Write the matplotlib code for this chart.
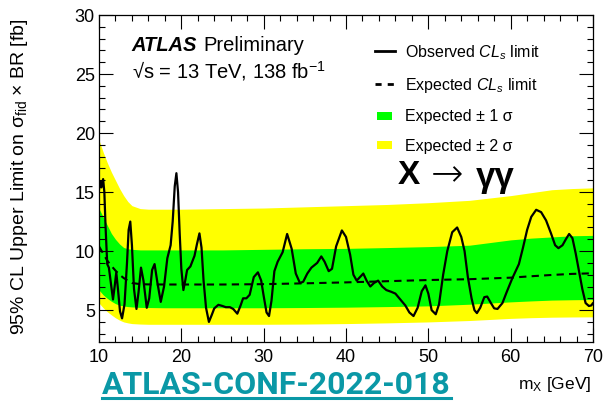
import matplotlib
matplotlib.use("Agg")
import matplotlib.pyplot as plt
from matplotlib.ticker import MultipleLocator, FixedLocator
from matplotlib.lines import Line2D
from matplotlib.patches import Patch, Rectangle
from matplotlib.legend_handler import HandlerPatch

plt.rcParams["font.family"] = ["Liberation Sans", "DejaVu Sans"]
plt.rcParams["mathtext.fontset"] = "custom"
plt.rcParams["mathtext.rm"] = "Liberation Sans"
plt.rcParams["mathtext.it"] = "Liberation Sans:italic"
plt.rcParams["mathtext.bf"] = "Liberation Sans:bold"

# ---------------- data ----------------
band_mass = [10, 10.5, 11, 11.5, 12, 12.5, 13, 13.5, 14, 15, 16, 18, 20, 25, 30,
             35, 40, 45, 50, 55, 60, 62.5, 65, 67.5, 70]
expected = [10.4, 9.8, 9.2, 8.75, 8.35, 8.0, 7.72, 7.5, 7.3, 7.2, 7.18, 7.17, 7.17, 7.17, 7.2,
            7.27, 7.35, 7.45, 7.55, 7.62, 7.75, 7.87, 7.98, 8.07, 8.12]
exp_up1 = [13.6, 12.9, 12.2, 11.5, 11.0, 10.6, 10.3, 10.2, 10.15, 10.1, 10.1, 10.1, 10.1, 10.1, 10.15,
           10.2, 10.23, 10.3, 10.38, 10.5, 10.95, 11.1, 11.2, 11.3, 11.33]
exp_lo1 = [6.7, 6.3, 6.0, 5.75, 5.55, 5.42, 5.35, 5.3, 5.27, 5.23, 5.22, 5.2, 5.2, 5.2, 5.2,
           5.22, 5.25, 5.3, 5.36, 5.5, 5.7, 5.78, 5.85, 5.88, 5.9]
exp_up2 = [19.4, 18.4, 17.5, 16.7, 16.0, 15.3, 14.7, 14.2, 13.85, 13.6, 13.55, 13.55, 13.55, 13.6, 13.65,
           13.75, 13.85, 13.95, 14.1, 14.3, 14.7, 14.95, 15.2, 15.3, 15.36]
exp_lo2 = [5.6, 5.2, 4.87, 4.6, 4.35, 4.15, 4.0, 3.92, 3.86, 3.82, 3.8, 3.8, 3.8, 3.8, 3.8,
           3.82, 3.86, 3.92, 4.0, 4.12, 4.3, 4.36, 4.4, 4.42, 4.43]

obs_mass = [10.0, 10.15, 10.3, 10.5, 10.65, 10.8, 11.0, 11.2, 11.4, 11.7, 11.9, 12.1, 12.3, 12.55,
            12.8, 13.1, 13.4, 13.6, 13.8, 14.0, 14.25, 14.55, 14.8, 15.1, 15.4, 15.8, 16.1, 16.45,
            16.75, 17.1, 17.5, 17.9, 18.3, 18.7, 18.95, 19.2, 19.4, 19.6, 19.8, 20.0, 20.25, 20.5,
            20.7, 21.1, 21.6, 21.9, 22.2, 22.45, 22.7, 23.0, 23.35, 23.7, 24.0, 24.5, 25.0, 25.4,
            25.9, 26.3, 26.8, 27.2, 27.5, 27.9, 28.3, 28.8, 29.3, 29.7, 30.0, 30.35, 30.65, 30.95,
            31.3, 31.7, 32.3, 32.85, 33.4, 33.9, 34.4, 34.8, 35.3, 35.8, 36.5, 37.0, 37.4, 37.9,
            38.3, 38.8, 39.5, 40.0, 40.5, 40.9, 41.3, 41.7, 42.1, 42.5, 42.95, 43.4, 43.9, 44.4,
            44.9, 45.5, 46.0, 46.6, 47.2, 47.7, 48.2, 48.7, 49.2, 49.65, 50.0, 50.4, 50.9, 51.3,
            51.8, 52.3, 52.9, 53.5, 54.0, 54.4, 54.8, 55.25, 55.6, 55.9, 56.3, 56.8, 57.15, 57.6,
            58.0, 58.4, 59.0, 59.5, 60.2, 61.0, 61.5, 62.0, 62.5, 63.1, 63.7, 64.3, 64.9, 65.4,
            65.8, 66.3, 66.7, 67.1, 67.5, 67.9, 68.3, 68.7, 69.1, 69.5, 69.8, 70.0]
obs_limit = [15.2, 15.9, 15.4, 16.1, 15.0, 12.0, 8.9, 8.6, 7.5, 5.9, 7.0, 8.2, 6.8, 4.9,
             4.3, 5.5, 9.0, 11.8, 12.5, 10.5, 6.8, 5.1, 6.5, 8.6, 7.5, 5.2, 6.0, 8.4,
             8.9, 7.3, 5.7, 7.0, 9.4, 10.5, 12.5, 15.5, 16.6, 15.0, 11.5, 8.5, 6.7, 7.6,
             8.4, 8.7, 9.6, 10.6, 11.5, 10.3, 7.5, 5.2, 4.0, 4.6, 5.15, 5.45, 5.35, 5.25,
             5.25, 5.1, 4.7, 5.4, 6.0, 6.0, 6.3, 7.8, 8.2, 7.5, 6.2, 4.8, 4.5, 5.8,
             8.3, 9.1, 9.9, 11.45, 10.2, 8.1, 7.3, 7.4, 8.1, 8.6, 9.0, 9.55, 9.1, 8.3,
             8.5, 10.4, 11.75, 11.2, 9.7, 8.0, 7.5, 7.8, 8.1, 7.5, 7.0, 7.3, 7.5, 7.0,
             6.7, 6.55, 6.4, 5.9, 5.4, 4.8, 4.5, 5.2, 6.6, 7.1, 6.4, 5.0, 4.65, 5.5,
             8.0, 10.0, 11.6, 12.0, 11.2, 10.0, 7.8, 6.0, 5.0, 4.75, 5.2, 6.1, 6.15, 5.6,
             5.15, 5.1, 5.6, 6.5, 7.7, 8.9, 10.3, 11.8, 12.9, 13.5, 13.3, 12.6, 11.5, 10.5,
             10.25, 10.5, 11.0, 11.45, 11.1, 9.8, 8.3, 6.8, 5.6, 5.35, 5.4, 5.6]

xticks = [10, 20, 30, 40, 50, 60, 70]
yticks = [5, 10, 15, 20, 25, 30]
legend_labels = ["Observed $CL_s$ limit", "Expected $CL_s$ limit",
                 "Expected \u00b1 1 \u03c3", "Expected \u00b1 2 \u03c3"]

# ---------------- figure ----------------
W, H = 605, 401
fig = plt.figure(figsize=(W / 100, H / 100), dpi=100)


def fx(px):
    return px / W


def fy(py):
    return 1 - py / H


ax = fig.add_axes([fx(99), fy(342), 494 / W, 327 / H])

ax.fill_between(band_mass, exp_lo2, exp_up2, color="#ffff00", lw=0, zorder=1)
ax.fill_between(band_mass, exp_lo1, exp_up1, color="#00ff00", lw=0, zorder=1.1)
ax.plot(band_mass, expected, color="black", lw=1.5, ls=(0, (3.5, 2.5)), zorder=2)
ax.plot(obs_mass, obs_limit, color="black", lw=1.6, zorder=3,
        solid_joinstyle="round", solid_capstyle="round")

ax.set_xlim(10, 70)
ax.set_ylim(2.3, 30)
ax.xaxis.set_major_locator(FixedLocator(xticks))
ax.yaxis.set_major_locator(FixedLocator(yticks))
ax.xaxis.set_minor_locator(MultipleLocator(2))
ax.yaxis.set_minor_locator(MultipleLocator(1))
ax.tick_params(which="both", direction="in", top=True, right=True, width=0.8,
               labelsize=13)
ax.tick_params(which="major", length=10)
ax.tick_params(which="minor", length=4.5)
ax.tick_params(axis="x", pad=5)
ax.tick_params(axis="y", pad=3)
for s in ax.spines.values():
    s.set_linewidth(0.9)

ax.set_ylabel("95% CL Upper Limit on \u03c3$_{\\rm fid}$ \u00d7 BR [fb]",
              fontsize=14, va="center")
ax.yaxis.set_label_coords((20 - 99) / 494, (342 - 177) / 327)
ax.set_xlabel("m$_{\\rm X}$ [GeV]", fontsize=12.5, ha="right", va="center")
ax.xaxis.set_label_coords((591 - 99) / 494, (342 - 385) / 327)


def rect_patch(legend, orig_handle, xdescent, ydescent, width, height, fontsize):
    h = 5.8
    return Rectangle((-xdescent + 0.08 * width, -ydescent + (height - h) / 2),
                     0.78 * width, h)


handles = [Line2D([], [], color="black", lw=2),
           Line2D([], [], color="black", lw=2, ls=(0, (2.2, 2.2))),
           Patch(facecolor="#00ff00", lw=0),
           Patch(facecolor="#ffff00", lw=0)]
leg = ax.legend(handles, legend_labels, loc="upper left",
                bbox_to_anchor=(fx(375), fy(43)), bbox_transform=fig.transFigure,
                frameon=False, fontsize=11.5, handlelength=1.25, handletextpad=0.65,
                labelspacing=0.9, borderpad=0, borderaxespad=0,
                handler_map={Patch: HandlerPatch(patch_func=rect_patch)})

fig.text(fx(131.5), fy(45.7), "ATLAS", fontsize=14.5, fontweight="bold",
         fontstyle="italic", va="center", ha="left")
fig.text(fx(203), fy(45.7), "Preliminary", fontsize=14.5, va="center", ha="left")
fig.text(fx(131.5), fy(71.5), "\u221as = 13 TeV, 138 fb$^{-1}$", fontsize=14.5,
         va="center", ha="left")

fig.text(fx(398), fy(176), "X", fontsize=24, fontweight="bold", va="center", ha="left")
fig.text(fx(431), fy(175), "\u2192", fontsize=28, family=["DejaVu Sans"],
         fontweight="light", va="center", ha="left")
fig.text(fx(476), fy(178), "\u03b3\u03b3", fontsize=25, fontweight="bold",
         va="center", ha="left")

conf = fig.text(fx(102.3), fy(394.3), "ATLAS-CONF-2022-018", fontsize=23,
                family=["Roboto", "DejaVu Sans"], fontweight="bold",
                color="#0a98a6", va="baseline", ha="left")
fig.canvas.draw()
bb = conf.get_window_extent()
fig.add_artist(Line2D([bb.x0 / W, bb.x1 / W], [fy(398.4), fy(398.4)],
                      transform=fig.transFigure, color="#0a98a6", lw=2.2))

fig.savefig("out.png", dpi=100)
